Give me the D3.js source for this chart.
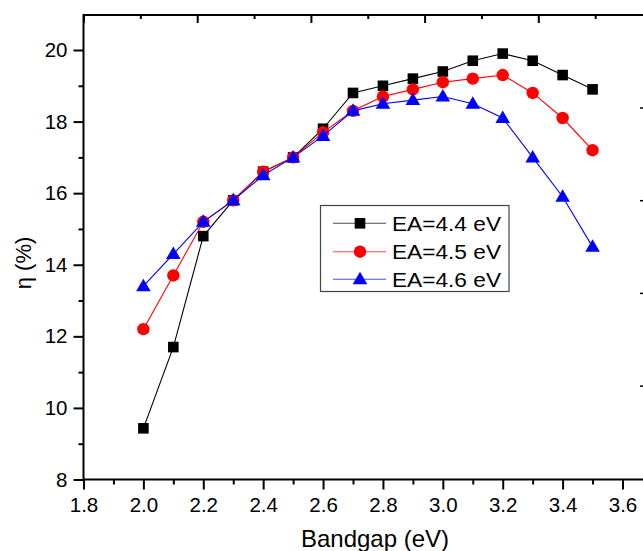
<!DOCTYPE html>
<html><head><meta charset="utf-8">
<script src="https://cdn.jsdelivr.net/npm/d3@7/dist/d3.min.js"></script>
<style>body{margin:0;background:#fff}svg{display:block}text{font-family:"Liberation Sans",Arial,sans-serif}</style>
</head><body><svg id="c" width="643" height="551"></svg>
<script>
const bandgap = [2.0,2.1,2.2,2.3,2.4,2.5,2.6,2.7,2.8,2.9,3.0,3.1,3.2,3.3,3.4,3.5];
const ea44 = [9.43,11.7,14.8,15.8,16.6,17.0,17.8,18.8,19.0,19.2,19.4,19.7,19.9,19.7,19.3,18.9];
const ea45 = [12.2,13.7,15.2,15.8,16.6,17.0,17.7,18.3,18.7,18.9,19.1,19.2,19.3,18.8,18.1,17.2];
const ea46 = [13.4,14.3,15.2,15.8,16.5,17.0,17.6,18.3,18.5,18.6,18.7,18.5,18.1,17.0,15.9,14.5];
const seriesNames = ["EA=4.4 eV","EA=4.5 eV","EA=4.6 eV"];
const xMajor = [1.8,2.0,2.2,2.4,2.6,2.8,3.0,3.2,3.4,3.6];
const xMinor = [1.9,2.1,2.3,2.5,2.7,2.9,3.1,3.3,3.5];
const yMajor = [8,10,12,14,16,18,20];
const yMinor = [9,11,13,15,17,19];
const topMajor = [0,1,2,3,4];
const topMinor = [0.5,1.5,2.5,3.5,4.5];
const rightMarks = [1,2,3,4];

const svg = d3.select("#c");
const L = 83.5, B = 479.5, T = 15, R = 643;
const x = d3.scaleLinear().domain([1.8, 3.6]).range([L, 622.5]);
const y = d3.scaleLinear().domain([8, 20]).range([B, 50]);
const xt = d3.scaleLinear().domain([0, 1]).range([L, L + 113.7]);
const yr = d3.scaleLinear().domain([1, 2]).range([108, 200.7]);

// frame lines
svg.append("line").attr("x1",L).attr("x2",R).attr("y1",T).attr("y2",T).attr("stroke","#000").attr("stroke-width",2);
svg.append("line").attr("x1",L).attr("x2",R).attr("y1",B).attr("y2",B).attr("stroke","#000").attr("stroke-width",2);
svg.append("line").attr("x1",L).attr("x2",L).attr("y1",T-1).attr("y2",B+1).attr("stroke","#000").attr("stroke-width",2);

// bottom axis
const gx = svg.append("g").attr("transform",`translate(0,${B})`)
  .call(d3.axisBottom(x).tickValues(xMajor).tickFormat(d3.format(".1f")).tickSize(10).tickPadding(8));
gx.select(".domain").remove();
gx.selectAll(".tick line").attr("stroke-width",2);
gx.selectAll("text").attr("font-size",20.5).attr("fill","#000").attr("font-family","Liberation Sans, Arial, sans-serif");
svg.append("g").attr("transform",`translate(0,${B})`)
  .call(d3.axisBottom(x).tickValues(xMinor).tickFormat("").tickSize(5))
  .call(g=>{g.select(".domain").remove(); g.selectAll(".tick line").attr("stroke-width",2);});

// left axis
const gy = svg.append("g").attr("transform",`translate(${L},0)`)
  .call(d3.axisLeft(y).tickValues(yMajor).tickFormat(d3.format("d")).tickSize(10).tickPadding(6));
gy.select(".domain").remove();
gy.selectAll(".tick line").attr("stroke-width",2);
gy.selectAll("text").attr("font-size",20.5).attr("fill","#000").attr("font-family","Liberation Sans, Arial, sans-serif");
svg.append("g").attr("transform",`translate(${L},0)`)
  .call(d3.axisLeft(y).tickValues(yMinor).tickFormat("").tickSize(5))
  .call(g=>{g.select(".domain").remove(); g.selectAll(".tick line").attr("stroke-width",2);});

// top axis (inward ticks)
svg.append("g").attr("transform",`translate(0,${T})`)
  .call(d3.axisBottom(xt).tickValues(topMajor).tickFormat("").tickSize(8))
  .call(g=>{g.select(".domain").remove(); g.selectAll(".tick line").attr("stroke-width",2);});
svg.append("g").attr("transform",`translate(0,${T})`)
  .call(d3.axisBottom(xt).tickValues(topMinor).tickFormat("").tickSize(4))
  .call(g=>{g.select(".domain").remove(); g.selectAll(".tick line").attr("stroke-width",2);});

// right edge small marks
svg.append("g").selectAll("line").data(rightMarks).join("line")
  .attr("x1",640).attr("x2",643).attr("y1",d=>yr(d)).attr("y2",d=>yr(d)).attr("stroke","#000").attr("stroke-width",1.5);

// titles
svg.append("text").attr("x",375).attr("y",547).attr("text-anchor","middle").attr("font-size",24).text("Bandgap (eV)");
svg.append("text").attr("transform","translate(31,263) rotate(-90)").attr("text-anchor","middle").attr("font-size",22).text("η (%)");

// series
const series = [
  {name: seriesNames[0], vals: ea44, color:"#000000", shape:"square"},
  {name: seriesNames[1], vals: ea45, color:"#ff0000", shape:"circle"},
  {name: seriesNames[2], vals: ea46, color:"#0000ff", shape:"triangle"}
];
function marker(g, shape, color, cx, cy){
  if(shape==="square") g.append("rect").attr("x",cx-5.3).attr("y",cy-5.3).attr("width",10.6).attr("height",10.6).attr("fill",color);
  else if(shape==="circle") g.append("circle").attr("cx",cx).attr("cy",cy).attr("r",6.2).attr("fill",color);
  else g.append("path").attr("d",`M${cx},${cy-7.5}L${cx+7.3},${cy+5}L${cx-7.3},${cy+5}Z`).attr("fill",color);
}
const line = d3.line().x((d,i)=>x(bandgap[i])).y(d=>y(d));
series.forEach(s=>{
  const g = svg.append("g");
  g.append("path").attr("d",line(s.vals)).attr("fill","none").attr("stroke",s.color).attr("stroke-width",1.1);
  s.vals.forEach((v,i)=>marker(g, s.shape, s.color, x(bandgap[i]), y(v)));
});

// legend
const lg = svg.append("g");
lg.append("rect").attr("x",320.5).attr("y",205.5).attr("width",188.5).attr("height",86).attr("fill","#fff").attr("stroke","#444").attr("stroke-width",1.2);
const rowsY = [223.3, 251.7, 279.3];
series.forEach((s,i)=>{
  lg.append("line").attr("x1",333).attr("x2",386).attr("y1",rowsY[i]).attr("y2",rowsY[i]).attr("stroke",s.color).attr("stroke-width",1.1).attr("opacity",0.7);
  marker(lg, s.shape, s.color, 360, rowsY[i]);
  lg.append("text").attr("x",392).attr("y",rowsY[i]+7.3).attr("font-size",20.5)
    .attr("textLength",109).attr("lengthAdjust","spacingAndGlyphs").text(s.name);
});
</script></body></html>
